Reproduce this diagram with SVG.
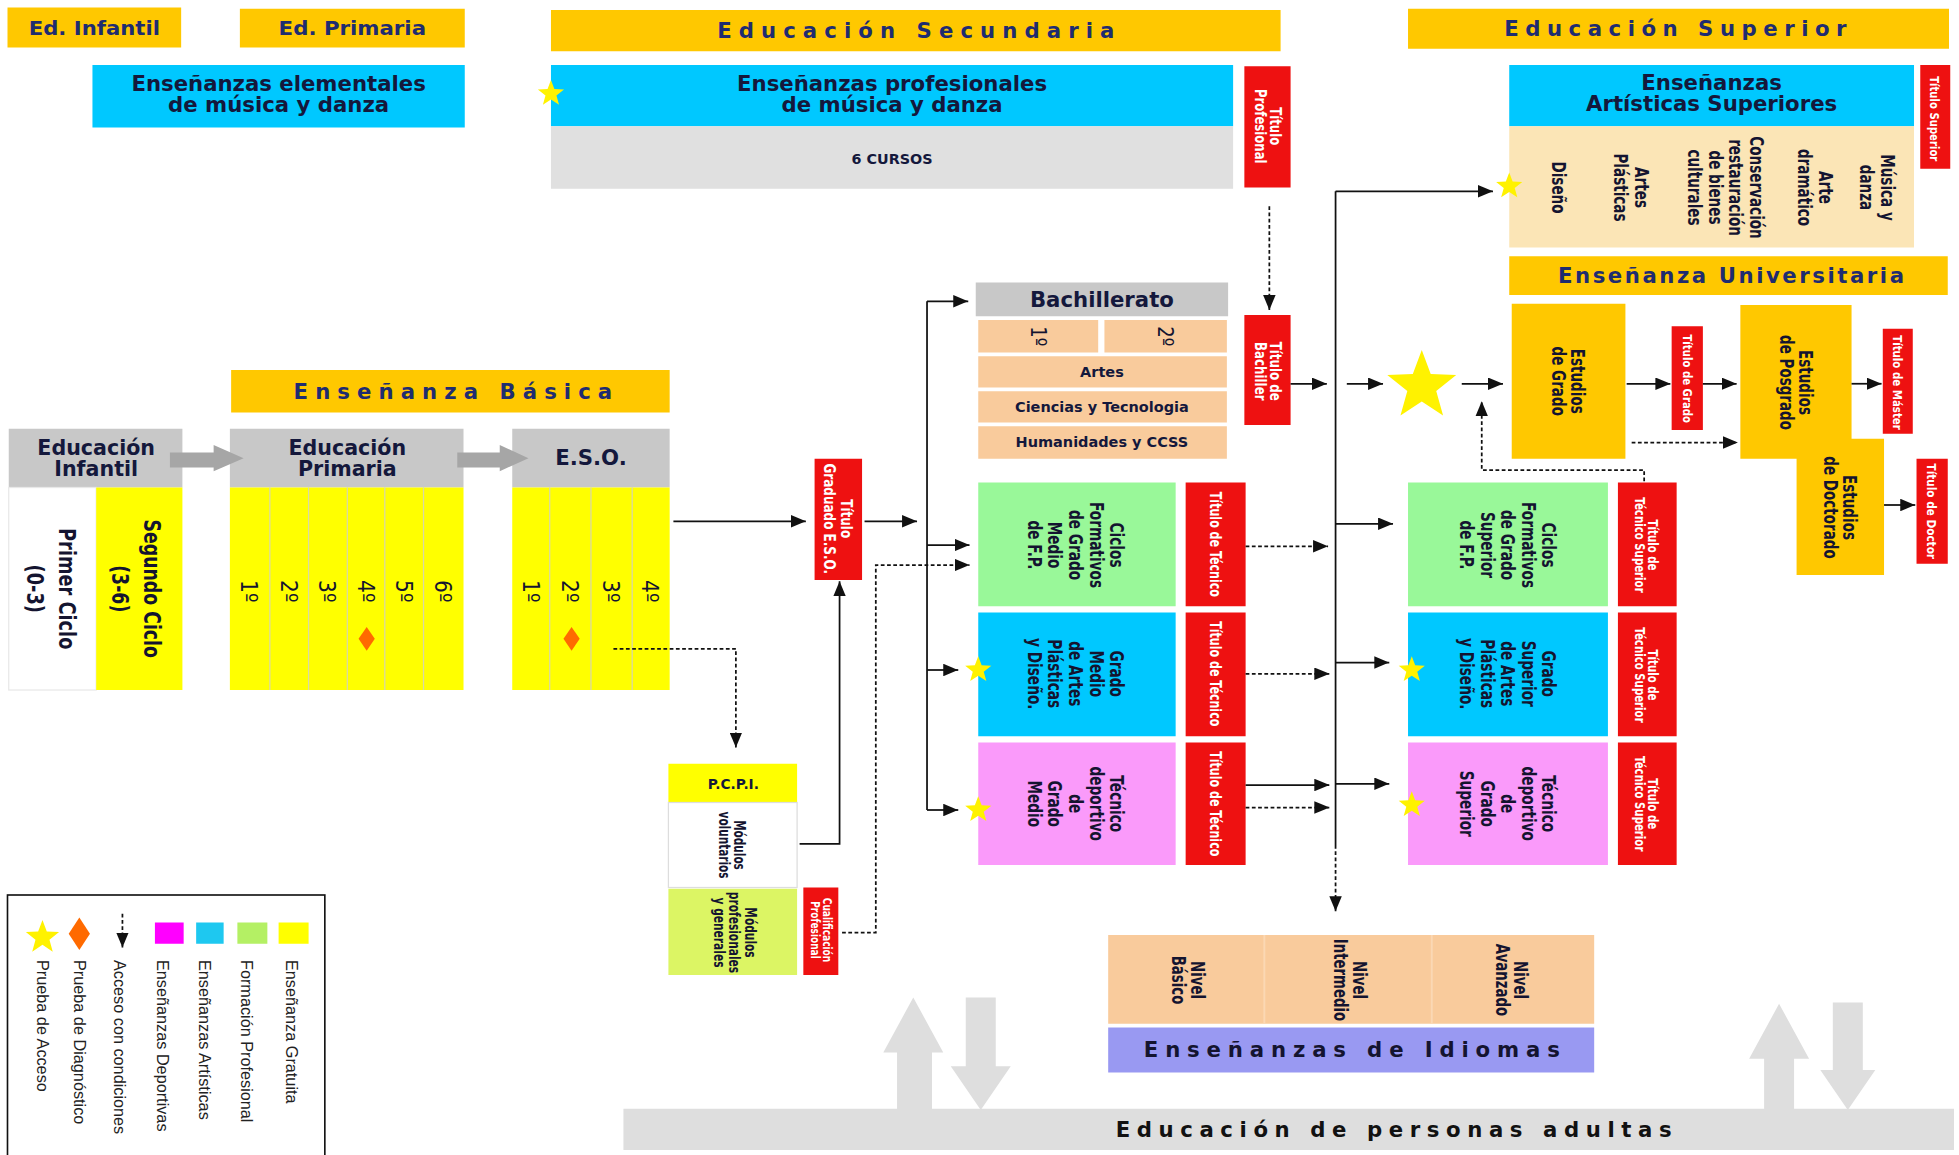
<svg xmlns="http://www.w3.org/2000/svg" width="1959" height="1155" viewBox="0 0 1959 1155">
<style>
.gold{fill:#FFC800}.cyan{fill:#00C8FF}.red{fill:#EE1111}.gray{fill:#C8C8C8}.lgray{fill:#E0E0E0}.yel{fill:#FFFF00}.peach{fill:#F9CB9C}.beige{fill:#FBE5B6}.green{fill:#99F899}.pink{fill:#FA9AFA}.purple{fill:#9999F2}.adult{fill:#DEDEDE}
.hd{font-family:"DejaVu Sans",Verdana,sans-serif;font-weight:bold;fill:#1F2C70;text-anchor:middle}
.bx{font-family:"DejaVu Sans",Verdana,sans-serif;font-weight:bold;fill:#14183C;text-anchor:middle}
.rb{font-family:"DejaVu Sans",Verdana,sans-serif;font-weight:bold;fill:#141430;text-anchor:middle}
.rn{font-family:"DejaVu Sans",Verdana,sans-serif;font-weight:normal;fill:#141430;text-anchor:middle}
.wt{font-family:"DejaVu Sans",Verdana,sans-serif;font-weight:bold;fill:#FFFFFF;text-anchor:middle}
.lg{font-family:"Liberation Sans",Arial,sans-serif;fill:#222}
.ln{fill:none;stroke:#111;stroke-width:1.4}
.da{stroke-dasharray:3 2}
.div{stroke:#D8D8A8;stroke-width:1}
.star{fill:#FFF200}
.dia{fill:#FF6A00}
.big{fill:#A6A6A6}
</style>
<defs>
<marker id="ah" viewBox="0 0 12 10" refX="12" refY="5" markerWidth="12" markerHeight="10" markerUnits="userSpaceOnUse" orient="auto"><path d="M0,0 L12,5 L0,10 z" fill="#111"/></marker>
<path id="st" d="M0,-1 L0.247,-0.34 L0.951,-0.309 L0.399,0.13 L0.588,0.809 L0,0.42 L-0.588,0.809 L-0.399,0.13 L-0.951,-0.309 L-0.247,-0.34 Z"/>
</defs>
<rect width="1959" height="1155" fill="#FFFFFF"/>
<g transform="scale(1.24936 1.25)">

<g id="adultas">
<rect class="adult" x="499" y="887" width="1065" height="33"/>
<polygon class="adult" points="718,888 718,842 707,842 731,798 755,842 746,842 746,888"/>
<polygon class="adult" points="773,798 797,798 797,853 809,853 785,888 761,853 773,853"/>
<polygon class="adult" points="1412,888 1412,847 1400,847 1424,803 1448,847 1436,847 1436,888"/>
<polygon class="adult" points="1467,802 1491,802 1491,856 1501,856 1479,888 1457,856 1467,856"/>
<text class="hd" x="893" y="910" font-size="17" style="text-anchor:start;fill:#111" textLength="445" lengthAdjust="spacing">Educación de personas adultas</text>
</g>

<g id="ed-infantil-tag"><rect class="gold" x="6" y="6" width="139" height="32"/><text class="hd" x="75.5" y="28" font-size="16" textLength="105" lengthAdjust="spacingAndGlyphs">Ed. Infantil</text></g>
<g id="ed-primaria-tag"><rect class="gold" x="192" y="7" width="180" height="31"/><text class="hd" x="282" y="28" font-size="16" textLength="118" lengthAdjust="spacingAndGlyphs">Ed. Primaria</text></g>
<g id="elementales"><rect class="cyan" x="74" y="52" width="298" height="50"/><text class="bx" x="223" y="73" font-size="17">Enseñanzas elementales</text><text class="bx" x="223" y="90" font-size="17">de música y danza</text></g>

<g id="secundaria-tag"><rect class="gold" x="441" y="8" width="584" height="33"/><text class="hd" x="733" y="30.5" font-size="17" textLength="318" lengthAdjust="spacing">Educación Secundaria</text></g>
<g id="profesionales"><rect class="cyan" x="441" y="52" width="546" height="49"/><rect class="lgray" x="441" y="101" width="546" height="50"/><text class="bx" x="714" y="73" font-size="17">Enseñanzas profesionales</text><text class="bx" x="714" y="90" font-size="17">de música y danza</text><text class="bx" x="714" y="131" font-size="11.5">6 CURSOS</text></g>
<g id="titulo-profesional"><rect class="red" x="996" y="53" width="37" height="97"/><text class="wt" font-size="12" transform="translate(1014.5 101) rotate(90) scale(0.78 1)"><tspan x="0" y="-1.7">Título</tspan><tspan x="0" dy="12">Profesional</tspan></text></g>

<g id="superior-tag"><rect class="gold" x="1127" y="7" width="433" height="32"/><text class="hd" x="1341" y="29" font-size="17" textLength="274" lengthAdjust="spacing">Educación Superior</text></g>
<g id="artisticas-superiores"><rect class="cyan" x="1208" y="52" width="324" height="49"/><rect class="beige" x="1208" y="101" width="324" height="97"/>
<text class="bx" x="1370" y="72" font-size="17">Enseñanzas</text><text class="bx" x="1370" y="89" font-size="17">Artísticas Superiores</text>
<text class="rb" font-size="15.5" transform="translate(1247.6 150) rotate(90) scale(0.7 1)"><tspan x="0" y="5.6">Diseño</tspan></text>
<text class="rb" font-size="15.5" transform="translate(1306 150) rotate(90) scale(0.7 1)"><tspan x="0" y="-2.65">Artes</tspan><tspan x="0" dy="16.5">Plásticas</tspan></text>
<text class="rb" font-size="15.5" transform="translate(1381.6 150) rotate(90) scale(0.7 1)"><tspan x="0" y="-19.15">Conservación</tspan><tspan x="0" dy="16.5">restauración</tspan><tspan x="0" dy="16.5">de bienes</tspan><tspan x="0" dy="16.5">culturales</tspan></text>
<text class="rb" font-size="15.5" transform="translate(1453 150) rotate(90) scale(0.7 1)"><tspan x="0" y="-2.65">Arte</tspan><tspan x="0" dy="16.5">dramático</tspan></text>
<text class="rb" font-size="15.5" transform="translate(1502.6 150) rotate(90) scale(0.7 1)"><tspan x="0" y="-2.65">Música y</tspan><tspan x="0" dy="16.5">danza</tspan></text>
</g>
<g id="titulo-superior"><rect class="red" x="1537" y="52" width="24" height="83"/><text class="wt" font-size="10.5" transform="translate(1549 95) rotate(90) scale(0.77 1)"><tspan x="0" y="3.8">Título Superior</tspan></text></g>

<g id="universitaria-tag"><rect class="gold" x="1208" y="205" width="351" height="31"/><text class="hd" x="1385.5" y="226.5" font-size="17" textLength="277" lengthAdjust="spacing">Enseñanza Universitaria</text></g>
<g id="grado"><rect class="gold" x="1210" y="243" width="91" height="124"/><text class="rb" font-size="15" transform="translate(1255 305) rotate(90) scale(0.72 1)"><tspan x="0" y="-2.1">Estudios</tspan><tspan x="0" dy="15">de Grado</tspan></text></g>
<g id="titulo-grado"><rect class="red" x="1338" y="261" width="25" height="83"/><text class="wt" font-size="10.5" transform="translate(1350.5 303) rotate(90) scale(0.775 1)"><tspan x="0" y="3.8">Título de Grado</tspan></text></g>
<g id="posgrado"><rect class="gold" x="1393" y="244" width="89" height="123"/><text class="rb" font-size="15" transform="translate(1438 306) rotate(90) scale(0.72 1)"><tspan x="0" y="-2.1">Estudios</tspan><tspan x="0" dy="15">de Posgrado</tspan></text></g>
<g id="titulo-master"><rect class="red" x="1507" y="263" width="24" height="84"/><text class="wt" font-size="10.5" transform="translate(1519 306) rotate(90) scale(0.78 1)"><tspan x="0" y="3.8">Título de Máster</tspan></text></g>
<g id="doctorado"><rect class="gold" x="1438" y="351" width="70" height="109"/><text class="rb" font-size="15" transform="translate(1473 406) rotate(90) scale(0.72 1)"><tspan x="0" y="-2.1">Estudios</tspan><tspan x="0" dy="15">de Doctorado</tspan></text></g>
<g id="titulo-doctor"><rect class="red" x="1534" y="367" width="25" height="84"/><text class="wt" font-size="10.5" transform="translate(1546.5 409) rotate(90) scale(0.8 1)"><tspan x="0" y="3.8">Título de Doctor</tspan></text></g>

<g id="bachillerato"><rect class="gray" x="781" y="226" width="202" height="27"/><text class="bx" x="882" y="246" font-size="17">Bachillerato</text>
<rect class="peach" x="783" y="256" width="96" height="26"/><rect class="peach" x="884" y="256" width="98" height="26"/>
<rect class="peach" x="783" y="285" width="199" height="25"/><rect class="peach" x="783" y="313" width="199" height="25"/><rect class="peach" x="783" y="341" width="199" height="26"/>
<text class="rn" font-size="17" transform="translate(831 269) rotate(90) scale(0.85 1)"><tspan x="0" y="6.1">1º</tspan></text>
<text class="rn" font-size="17" transform="translate(933 269) rotate(90) scale(0.85 1)"><tspan x="0" y="6.1">2º</tspan></text>
<text class="bx" x="882" y="301.5" font-size="11.6">Artes</text><text class="bx" x="882" y="329.5" font-size="11.6">Ciencias y Tecnologia</text><text class="bx" x="882" y="358" font-size="11.6">Humanidades y CCSS</text></g>
<g id="titulo-bachiller"><rect class="red" x="996" y="252" width="37" height="88"/><text class="wt" font-size="12" transform="translate(1014.5 297) rotate(90) scale(0.79 1)"><tspan x="0" y="-1.7">Título de</tspan><tspan x="0" dy="12">Bachiller</tspan></text></g>

<g id="ciclos-medio"><rect class="green" x="783" y="386" width="158" height="99"/><text class="rb" font-size="15" transform="translate(861 436) rotate(90) scale(0.73 1)"><tspan x="0" y="-27.6">Ciclos</tspan><tspan x="0" dy="16.5">Formativos</tspan><tspan x="0" dy="16.5">de Grado</tspan><tspan x="0" dy="16.5">Medio</tspan><tspan x="0" dy="16.5">de F.P.</tspan></text></g>
<g id="titulo-tecnico-1"><rect class="red" x="949" y="386" width="48" height="99"/><text class="wt" font-size="12.5" transform="translate(973 435.5) rotate(90) scale(0.71 1)"><tspan x="0" y="4.5">Título de Técnico</tspan></text></g>
<g id="artes-medio"><rect class="cyan" x="783" y="490" width="158" height="99"/><text class="rb" font-size="15" transform="translate(861 539) rotate(90) scale(0.73 1)"><tspan x="0" y="-27.6">Grado</tspan><tspan x="0" dy="16.5">Medio</tspan><tspan x="0" dy="16.5">de Artes</tspan><tspan x="0" dy="16.5">Plásticas</tspan><tspan x="0" dy="16.5">y Diseño.</tspan></text></g>
<g id="titulo-tecnico-2"><rect class="red" x="949" y="490" width="48" height="99"/><text class="wt" font-size="12.5" transform="translate(973 539) rotate(90) scale(0.71 1)"><tspan x="0" y="4.5">Título de Técnico</tspan></text></g>
<g id="deportivo-medio"><rect class="pink" x="783" y="594" width="158" height="98"/><text class="rb" font-size="15" transform="translate(861 643) rotate(90) scale(0.73 1)"><tspan x="0" y="-27.6">Técnico</tspan><tspan x="0" dy="16.5">deportivo</tspan><tspan x="0" dy="16.5">de</tspan><tspan x="0" dy="16.5">Grado</tspan><tspan x="0" dy="16.5">Medio</tspan></text></g>
<g id="titulo-tecnico-3"><rect class="red" x="949" y="594" width="48" height="98"/><text class="wt" font-size="12.5" transform="translate(973 643) rotate(90) scale(0.71 1)"><tspan x="0" y="4.5">Título de Técnico</tspan></text></g>

<g id="ciclos-superior"><rect class="green" x="1127" y="386" width="160" height="99"/><text class="rb" font-size="15" transform="translate(1207 436) rotate(90) scale(0.73 1)"><tspan x="0" y="-27.6">Ciclos</tspan><tspan x="0" dy="16.5">Formativos</tspan><tspan x="0" dy="16.5">de Grado</tspan><tspan x="0" dy="16.5">Superior</tspan><tspan x="0" dy="16.5">de F.P.</tspan></text></g>
<g id="titulo-tecsup-1"><rect class="red" x="1295" y="386" width="47" height="99"/><text class="wt" font-size="11.5" transform="translate(1318 436) rotate(90) scale(0.71 1)"><tspan x="0" y="-1.4">Título de</tspan><tspan x="0" dy="11">Técnico Superior</tspan></text></g>
<g id="artes-superior"><rect class="cyan" x="1127" y="490" width="160" height="99"/><text class="rb" font-size="15" transform="translate(1207 539) rotate(90) scale(0.73 1)"><tspan x="0" y="-27.6">Grado</tspan><tspan x="0" dy="16.5">Superior</tspan><tspan x="0" dy="16.5">de Artes</tspan><tspan x="0" dy="16.5">Plásticas</tspan><tspan x="0" dy="16.5">y Diseño.</tspan></text></g>
<g id="titulo-tecsup-2"><rect class="red" x="1295" y="490" width="47" height="99"/><text class="wt" font-size="11.5" transform="translate(1318 540) rotate(90) scale(0.71 1)"><tspan x="0" y="-1.4">Título de</tspan><tspan x="0" dy="11">Técnico Superior</tspan></text></g>
<g id="deportivo-superior"><rect class="pink" x="1127" y="594" width="160" height="98"/><text class="rb" font-size="15" transform="translate(1207 643) rotate(90) scale(0.73 1)"><tspan x="0" y="-27.6">Técnico</tspan><tspan x="0" dy="16.5">deportivo</tspan><tspan x="0" dy="16.5">de</tspan><tspan x="0" dy="16.5">Grado</tspan><tspan x="0" dy="16.5">Superior</tspan></text></g>
<g id="titulo-tecsup-3"><rect class="red" x="1295" y="594" width="47" height="98"/><text class="wt" font-size="11.5" transform="translate(1318 643) rotate(90) scale(0.71 1)"><tspan x="0" y="-1.4">Título de</tspan><tspan x="0" dy="11">Técnico Superior</tspan></text></g>

<g id="basica-tag"><rect class="gold" x="185" y="296" width="351" height="34"/><text class="hd" x="362.5" y="319" font-size="17" textLength="255" lengthAdjust="spacing">Enseñanza Básica</text></g>
<g id="infantil"><rect class="gray" x="7" y="343" width="139" height="47"/><text class="bx" x="77" y="364" font-size="16.5">Educación</text><text class="bx" x="77" y="381" font-size="16.5">Infantil</text>
<rect x="7" y="390" width="70" height="162" fill="#FFFFFF" stroke="#E8E8E8"/><rect class="yel" x="77" y="390" width="69" height="162"/>
<text class="rb" font-size="18" transform="translate(41 471) rotate(90) scale(0.79 1)"><tspan x="0" y="-6">Primer Ciclo</tspan><tspan x="0" dy="25">(0-3)</tspan></text>
<text class="rb" font-size="18" transform="translate(109 471) rotate(90) scale(0.77 1)"><tspan x="0" y="-6">Segundo Ciclo</tspan><tspan x="0" dy="25">(3-6)</tspan></text></g>
<g id="primaria"><rect class="gray" x="184" y="343" width="187" height="47"/><text class="bx" x="278" y="364" font-size="16.5">Educación</text><text class="bx" x="278" y="381" font-size="16.5">Primaria</text>
<rect class="yel" x="184" y="390" width="187" height="162"/>
<path class="div" d="M216,390V552M247,390V552M278,390V552M308,390V552M339,390V552"/>
<text class="rn" font-size="19" transform="translate(200 473) rotate(90) scale(0.85 1)"><tspan x="0" y="6.8">1º</tspan></text>
<text class="rn" font-size="19" transform="translate(231.5 473) rotate(90) scale(0.85 1)"><tspan x="0" y="6.8">2º</tspan></text>
<text class="rn" font-size="19" transform="translate(262.5 473) rotate(90) scale(0.85 1)"><tspan x="0" y="6.8">3º</tspan></text>
<text class="rn" font-size="19" transform="translate(293 473) rotate(90) scale(0.85 1)"><tspan x="0" y="6.8">4º</tspan></text>
<text class="rn" font-size="19" transform="translate(323.5 473) rotate(90) scale(0.85 1)"><tspan x="0" y="6.8">5º</tspan></text>
<text class="rn" font-size="19" transform="translate(355 473) rotate(90) scale(0.85 1)"><tspan x="0" y="6.8">6º</tspan></text></g>
<g id="eso"><rect class="gray" x="410" y="343" width="126" height="47"/><text class="bx" x="473" y="372" font-size="17">E.S.O.</text>
<rect class="yel" x="410" y="390" width="126" height="162"/>
<path class="div" d="M440,390V552M473,390V552M506,390V552"/>
<text class="rn" font-size="19" transform="translate(425.5 473) rotate(90) scale(0.85 1)"><tspan x="0" y="6.8">1º</tspan></text>
<text class="rn" font-size="19" transform="translate(456.5 473) rotate(90) scale(0.85 1)"><tspan x="0" y="6.8">2º</tspan></text>
<text class="rn" font-size="19" transform="translate(489.5 473) rotate(90) scale(0.85 1)"><tspan x="0" y="6.8">3º</tspan></text>
<text class="rn" font-size="19" transform="translate(521 473) rotate(90) scale(0.85 1)"><tspan x="0" y="6.8">4º</tspan></text></g>
<g id="block-arrows"><polygon class="big" points="136,362 171,362 171,356 195,366.5 171,377 171,374 136,374"/><polygon class="big" points="366,362 400,362 400,356 423,366.5 400,377 400,374 366,374"/></g>

<g id="titulo-graduado"><rect class="red" x="652" y="367" width="38" height="97"/><text class="wt" font-size="13" transform="translate(671 415) rotate(90) scale(0.74 1)"><tspan x="0" y="-2.3">Título</tspan><tspan x="0" dy="14">Graduado E.S.O.</tspan></text></g>
<g id="pcpi"><rect class="yel" x="535" y="611" width="103" height="31"/><text class="bx" x="587" y="631" font-size="11">P.C.P.I.</text>
<rect x="535" y="642" width="103" height="68" fill="#FFFFFF" stroke="#DDDDDD"/>
<text class="rb" font-size="12" transform="translate(586 676) rotate(90) scale(0.7 1)"><tspan x="0" y="-1.7">Módulos</tspan><tspan x="0" dy="12">voluntarios</tspan></text>
<rect x="535" y="711" width="103" height="69" fill="#DCF564"/>
<text class="rb" font-size="12" transform="translate(588 746) rotate(90) scale(0.71 1)"><tspan x="0" y="-8.2">Módulos</tspan><tspan x="0" dy="12.5">profesionales</tspan><tspan x="0" dy="12.5">y generales</tspan></text></g>
<g id="cualificacion"><rect class="red" x="643" y="710" width="28" height="70"/><text class="wt" font-size="9.5" transform="translate(657 744) rotate(90) scale(0.76 1)"><tspan x="0" y="-1.35">Cualificación</tspan><tspan x="0" dy="9.5">Profesional</tspan></text></g>

<g id="idiomas"><rect class="peach" x="887" y="748" width="389" height="71"/><path d="M1012,748V819M1146,748V819" stroke="#FBD8B4" stroke-width="1.5"/>
<text class="rb" font-size="15" transform="translate(951 784) rotate(90) scale(0.71 1)"><tspan x="0" y="-2.1">Nivel</tspan><tspan x="0" dy="15">Básico</tspan></text>
<text class="rb" font-size="15" transform="translate(1081 784) rotate(90) scale(0.71 1)"><tspan x="0" y="-2.1">Nivel</tspan><tspan x="0" dy="15">Intermedio</tspan></text>
<text class="rb" font-size="15" transform="translate(1210 784) rotate(90) scale(0.71 1)"><tspan x="0" y="-2.1">Nivel</tspan><tspan x="0" dy="15">Avanzado</tspan></text>
<rect class="purple" x="887" y="822" width="389" height="36"/><text class="hd" x="1082" y="846" font-size="17" style="fill:#141430" textLength="333" lengthAdjust="spacing">Enseñanzas de Idiomas</text></g>

<g id="connectors">
<path class="ln" d="M539,417H645" marker-end="url(#ah)"/>
<path class="ln" d="M692,417H734" marker-end="url(#ah)"/>
<path class="ln" d="M742,241V648"/>
<path class="ln" d="M742,241H775" marker-end="url(#ah)"/>
<path class="ln" d="M742,436H776" stroke-width="2.6" marker-end="url(#ah)"/>
<path class="ln" d="M742,536H767" marker-end="url(#ah)"/>
<path class="ln" d="M742,648H767" marker-end="url(#ah)"/>
<path class="ln da" d="M674,746H701V452H776" marker-end="url(#ah)"/>
<path class="ln" d="M640,675H672V465" marker-end="url(#ah)"/>
<path class="ln da" d="M491,519H589V598" marker-end="url(#ah)"/>
<path class="ln da" d="M1016,165V248" marker-end="url(#ah)"/>
<path class="ln" d="M1033,307H1062" marker-end="url(#ah)"/>
<path class="ln" d="M1069,153V676" stroke="#555"/>
<path class="ln da" d="M1069,676V729" marker-end="url(#ah)"/>
<path class="ln" d="M1069,153H1195" marker-end="url(#ah)"/>
<path class="ln" d="M1078,307H1107" marker-end="url(#ah)"/>
<path class="ln" d="M1170,307H1203" stroke-width="2" marker-end="url(#ah)"/>
<path class="ln" d="M1302,307H1337" marker-end="url(#ah)"/>
<path class="ln" d="M1363,307H1390" marker-end="url(#ah)"/>
<path class="ln" d="M1482,307H1506" marker-end="url(#ah)"/>
<path class="ln" d="M1508,404H1533" marker-end="url(#ah)"/>
<path class="ln da" d="M1306,354H1391" stroke-width="2" marker-end="url(#ah)"/>
<path class="ln da" d="M1316,385V376H1186V321" marker-end="url(#ah)"/>
<path class="ln da" d="M997,437H1063" marker-end="url(#ah)"/>
<path class="ln" d="M1069,419H1115" marker-end="url(#ah)"/>
<path class="ln da" d="M997,539H1064" marker-end="url(#ah)"/>
<path class="ln" d="M1069,530H1112" marker-end="url(#ah)"/>
<path class="ln" d="M997,628H1064" marker-end="url(#ah)"/>
<path class="ln da" d="M997,646H1064" marker-end="url(#ah)"/>
<path class="ln" d="M1069,627H1112" marker-end="url(#ah)"/>
</g>

<g id="marks">
<use href="#st" class="star" transform="translate(441 75) scale(11)"/>
<use href="#st" class="star" transform="translate(1208 149) scale(11)"/>
<use href="#st" class="star" transform="translate(1138 309) scale(29)"/>
<use href="#st" class="star" transform="translate(783 536) scale(11)"/>
<use href="#st" class="star" transform="translate(783 648) scale(11)"/>
<use href="#st" class="star" transform="translate(1130 536) scale(11)"/>
<use href="#st" class="star" transform="translate(1130 644) scale(11)"/>
<polygon class="dia" points="293.5,501.5 300,511 293.5,520.5 287,511"/>
<polygon class="dia" points="457.5,501.5 464,511 457.5,520.5 451,511"/>
</g>

<g id="legend">
<rect x="6" y="716" width="254" height="220" fill="#FFFFFF" stroke="#111" stroke-width="1.3"/>
<rect x="223" y="738" width="24" height="17" fill="#FFFF00"/>
<rect x="190" y="738" width="24" height="17" fill="#B4F064"/>
<rect x="157" y="738" width="22" height="17" fill="#1EC8F0"/>
<rect x="124" y="738" width="23" height="17" fill="#FF00FF"/>
<path class="ln da" d="M98,731V758" marker-end="url(#ah)"/>
<polygon class="dia" points="63.5,734 72,747 63.5,760 55,747"/>
<use href="#st" class="star" transform="translate(34 750) scale(14)"/>
<text class="lg" font-size="13" transform="translate(234 768) rotate(90)" y="4.7">Enseñanza Gratuita</text>
<text class="lg" font-size="13" transform="translate(198 768) rotate(90)" y="4.7">Formación Profesional</text>
<text class="lg" font-size="13" transform="translate(164 768) rotate(90)" y="4.7">Enseñanzas Artísticas</text>
<text class="lg" font-size="13" transform="translate(130 768) rotate(90)" y="4.7">Enseñanzas Deportivas</text>
<text class="lg" font-size="13" transform="translate(96 768) rotate(90)" y="4.7">Acceso con condiciones</text>
<text class="lg" font-size="13" transform="translate(64 768) rotate(90)" y="4.7">Prueba de Diagnóstico</text>
<text class="lg" font-size="13" transform="translate(34 768) rotate(90)" y="4.7">Prueba de Acceso</text>
</g>
</g>
</svg>
